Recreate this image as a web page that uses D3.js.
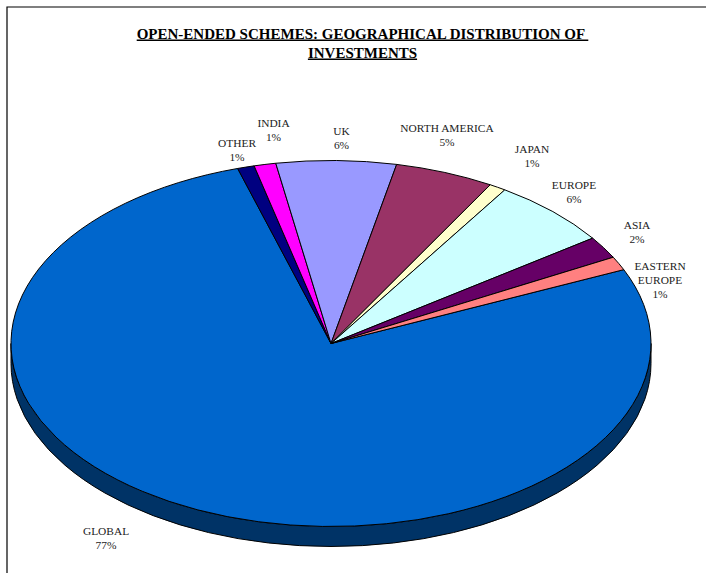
<!DOCTYPE html>
<meta charset="utf-8">
<head>
    <title>Open-ended schemes</title>
    <style>
     html, body { margin: 0; padding: 0; background: #fff; }
     svg { display: block; }
     text { font-family: "Liberation Serif", serif; fill: #000; }
     .title { font-size: 15px; font-weight: bold; text-decoration: underline; text-anchor: middle; white-space: pre; }
     .label { font-size: 11.4px; text-anchor: middle; fill: #222; }
     .slice, .rim { stroke: #000; stroke-width: 1; stroke-linejoin: round; vector-effect: non-scaling-stroke; }
    </style>
</head>
<body>
<div id="chart"></div>
<script src="https://cdnjs.cloudflare.com/ajax/libs/d3/7.8.5/d3.min.js"></script>
<script>
 // values, clockwise starting at the big slice
 const categories = ["GLOBAL", "OTHER", "INDIA", "UK", "NORTH AMERICA", "JAPAN", "EUROPE", "ASIA", "EASTERN EUROPE"];
 const shares = [76.9, 0.85, 1.1, 6.05, 5.0, 0.85, 6.1, 1.95, 1.2];
 const colors = ["#0066CC", "#000080", "#FF00FF", "#9999FF", "#993366", "#FFFFCC", "#CCFFFF", "#660066", "#FF8080"];
 const titleLines = ["OPEN-ENDED SCHEMES: GEOGRAPHICAL DISTRIBUTION OF ", "INVESTMENTS"];

 const width = 706, height = 573;
 const cx = 331, cy = 343.5, rx = 320, ry = 183, depth = 20;
 const rimColor = "#003366";
 const firstAngle = 66.2 * Math.PI / 180;

 // label centres in pixels, text wrapped by hand like the original
 const labelLayout = {
     "GLOBAL": { x: 106, y: 531, lines: ["GLOBAL"] },
     "OTHER": { x: 237, y: 143, lines: ["OTHER"] },
     "INDIA": { x: 273.5, y: 123, lines: ["INDIA"] },
     "UK": { x: 341.5, y: 131, lines: ["UK"] },
     "NORTH AMERICA": { x: 447, y: 128, lines: ["NORTH AMERICA"] },
     "JAPAN": { x: 532, y: 149, lines: ["JAPAN"] },
     "EUROPE": { x: 574, y: 185, lines: ["EUROPE"] },
     "ASIA": { x: 637, y: 225, lines: ["ASIA"] },
     "EASTERN EUROPE": { x: 660, y: 266, lines: ["EASTERN", "EUROPE"] }
 };
 const lineStep = 14.2;

 const svg = d3.select("#chart").append("svg")
               .attr("width", width)
               .attr("height", height);

 // frame, only top and left show in the crop
 svg.append("path")
    .attr("d", `M7,${height}V7H${width}`)
    .attr("fill", "none")
    .attr("stroke", "#000")
    .attr("stroke-width", 1.2);

 // title
 svg.selectAll("text.title")
    .data(titleLines)
    .join("text")
    .attr("class", "title")
    .attr("xml:space", "preserve")
    .attr("x", 362.5)
    .attr("y", (d, i) => 38.5 + i * 19)
    .text(d => d);

 // side wall of the tilted pie
 svg.append("path")
    .attr("class", "rim")
    .attr("fill", rimColor)
    .attr("d", `M${cx - rx},${cy}V${cy + depth}A${rx},${ry} 0 0 0 ${cx + rx},${cy + depth}V${cy}A${rx},${ry} 0 0 1 ${cx - rx},${cy}Z`);

 // top of the pie: circular arcs squashed into an ellipse
 const pie = d3.pie()
               .sort(null)
               .value(d => d.share)
               .startAngle(firstAngle)
               .endAngle(firstAngle + 2 * Math.PI);
 const arc = d3.arc().innerRadius(0).outerRadius(rx);
 const data = categories.map((c, i) => ({ name: c, share: shares[i], color: colors[i] }));

 svg.append("g")
    .attr("transform", `translate(${cx},${cy}) scale(1,${ry / rx})`)
    .selectAll("path")
    .data(pie(data))
    .join("path")
    .attr("class", "slice")
    .attr("fill", d => d.data.color)
    .attr("d", arc);

 // labels
 const label = svg.selectAll("text.label")
                  .data(data)
                  .join("text")
                  .attr("class", "label")
                  .attr("transform", d => `translate(${labelLayout[d.name].x},${labelLayout[d.name].y + 4})`);
 label.selectAll("tspan")
      .data(d => labelLayout[d.name].lines.concat([Math.round(d.share) + "%"]))
      .join("tspan")
      .attr("x", 0)
      .attr("y", (d, i) => i * lineStep)
      .text(d => d);
</script>
</body>
